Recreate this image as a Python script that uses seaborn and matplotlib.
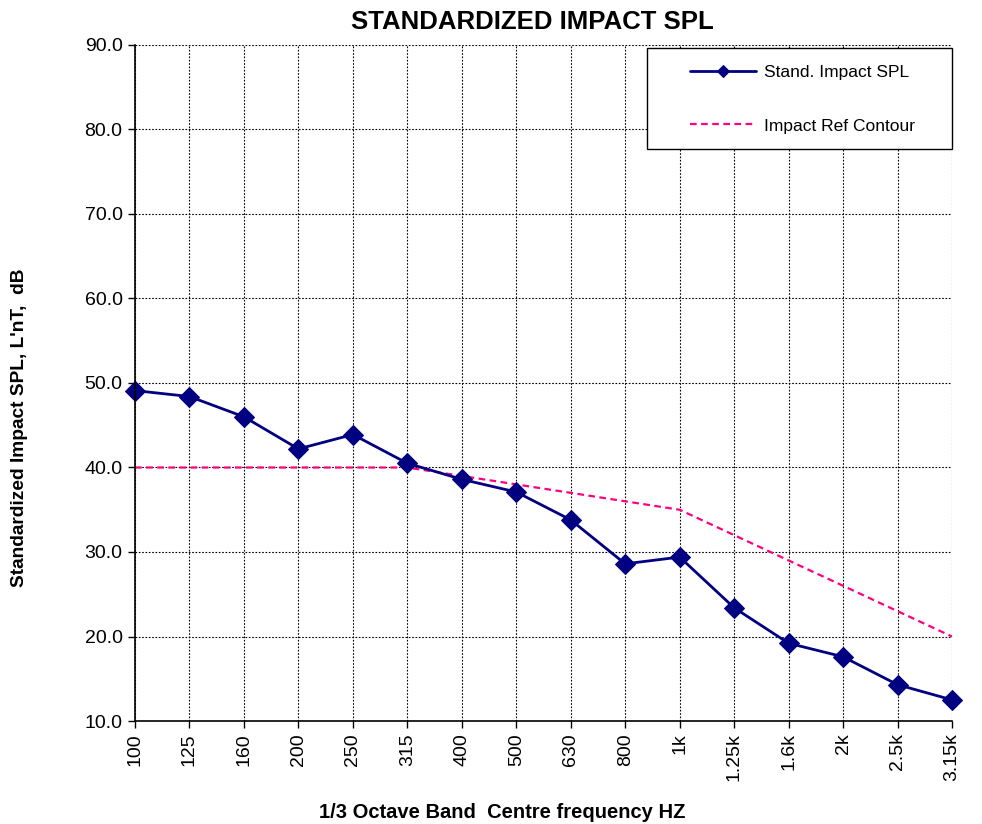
import matplotlib
matplotlib.use("Agg")
import matplotlib.pyplot as plt
import seaborn as sns
import numpy as np
import pandas as pd
from matplotlib.patches import Rectangle

freq_labels = ["100", "125", "160", "200", "250", "315", "400", "500", "630",
               "800", "1k", "1.25k", "1.6k", "2k", "2.5k", "3.15k"]
spl_values = [49.1, 48.4, 46.0, 42.2, 43.9, 40.5, 38.6, 37.1, 33.8,
              28.6, 29.4, 23.4, 19.2, 17.6, 14.3, 12.5]
ref_values = [40, 40, 40, 40, 40, 40, 39, 38, 37, 36, 35, 32, 29, 26, 23, 20]
y_ticks = [10, 20, 30, 40, 50, 60, 70, 80, 90]

sns.set_style("white")
plt.rcParams['font.family'] = ['Liberation Sans', 'DejaVu Sans']
plt.rcParams['text.color'] = 'black'
plt.rcParams['axes.labelcolor'] = 'black'
plt.rcParams['xtick.color'] = 'black'
plt.rcParams['ytick.color'] = 'black'

idx = np.arange(len(freq_labels))
df_spl = pd.DataFrame({"x": idx, "y": spl_values})
df_ref = pd.DataFrame({"x": idx, "y": ref_values})

fig = plt.figure(figsize=(9.82, 8.24), dpi=100)
ax = fig.add_axes([135/982, 1 - 721/824, (952-135)/982, (721-45)/824])

sns.lineplot(data=df_ref, x="x", y="y", ax=ax, color="#FF0080", lw=1.6,
             linestyle=(0, (3, 2)), label="Impact Ref Contour", sort=False)
sns.lineplot(data=df_spl, x="x", y="y", ax=ax, color="#000080", lw=2.0,
             marker="D", markersize=10, markeredgecolor="#000080",
             label="Stand. Impact SPL", sort=False, clip_on=False)

ax.set_xlim(0, len(freq_labels) - 1)
ax.set_ylim(10, 90)
ax.set_xticks(idx)
ax.set_xticklabels(freq_labels, rotation=90, fontsize=14)
ax.set_yticks(y_ticks)
ax.set_yticklabels([f"{v:.1f}" for v in y_ticks], fontsize=14)
ax.tick_params(axis='both', direction='out', length=5, width=1, color='black',
               bottom=True, left=True, pad=4)
ax.set_xlabel("")
ax.set_ylabel("")

ax.grid(True, color='black', linestyle=(0, (1.5, 1.5)), linewidth=0.8)
ax.set_axisbelow(True)
for s in ['top', 'right']:
    ax.spines[s].set_visible(False)
for s in ['left', 'bottom']:
    ax.spines[s].set_color('black')
    ax.spines[s].set_linewidth(1.2)

fig.text(532/982, 1 - 22/824, "STANDARDIZED IMPACT SPL", fontsize=18.5,
         fontweight='bold', ha='center', va='center')
fig.text(502/982, 1 - 812/824, "1/3 Octave Band  Centre frequency HZ",
         fontsize=14.5, fontweight='bold', ha='center', va='center')
fig.text(20/982, 1 - 428/824, "Standardized Impact SPL, L'nT,  dB",
         fontsize=13.8, fontweight='bold', ha='center', va='center', rotation=90)

# legend frame box
x0, x1 = (647 - 135) / 817, 1.0
y0, y1 = (721 - 149) / 676, (721 - 48) / 676
ax.add_patch(Rectangle((x0, y0), x1 - x0, y1 - y0, transform=ax.transAxes,
                       facecolor='white', edgecolor='black', lw=1.0, zorder=5,
                       clip_on=False))

handles, labels = ax.get_legend_handles_labels()
order = [labels.index("Stand. Impact SPL"), labels.index("Impact Ref Contour")]
leg = ax.legend([handles[i] for i in order], [labels[i] for i in order],
                loc='upper left', bbox_to_anchor=((690 - 135) / 817, (721 - 65) / 676),
                fontsize=12.5, frameon=False,
                handlelength=3.8, labelspacing=2.2, borderpad=0,
                handletextpad=0.45, borderaxespad=0)
leg.set_zorder(6)
for h in leg.legend_handles:
    try:
        h.set_markersize(6)
    except Exception:
        pass

fig.savefig("out.png", dpi=100)
